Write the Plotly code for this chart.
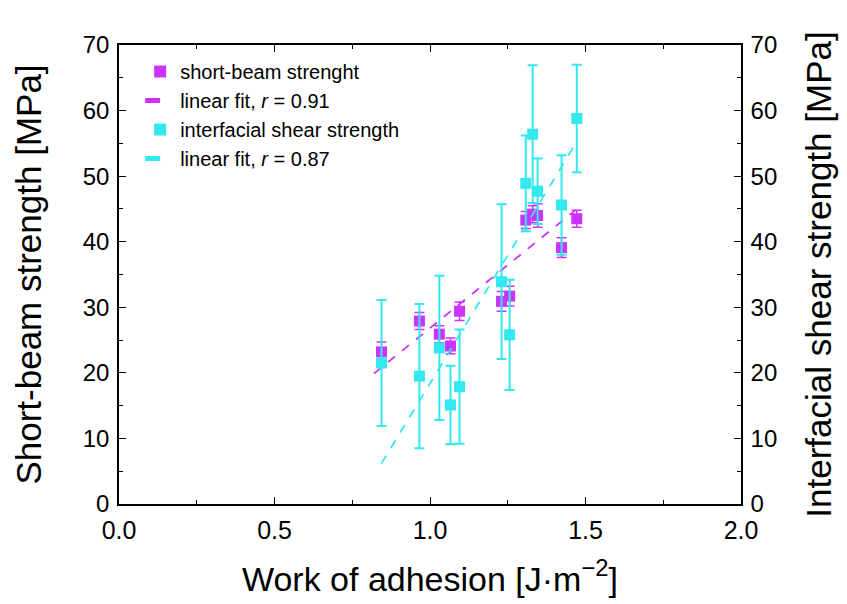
import plotly.graph_objects as go

# Short-beam strength (left axis)
sb_x = [0.844, 0.966, 1.030, 1.066, 1.095, 1.230, 1.256, 1.308, 1.330, 1.346, 1.423, 1.472]
sb_y = [23.2, 27.9, 25.9, 24.1, 29.4, 30.9, 31.7, 43.3, 44.2, 44.0, 39.1, 43.5]
sb_err = [1.5, 1.3, 1.3, 1.2, 1.4, 1.5, 1.5, 1.3, 1.3, 1.8, 1.5, 1.3]

# Interfacial shear strength (right axis)
iss_x = [0.844, 0.966, 1.030, 1.066, 1.095, 1.230, 1.256, 1.308, 1.330, 1.346, 1.423, 1.472]
iss_y = [21.5, 19.5, 23.8, 15.1, 17.9, 33.9, 25.8, 48.9, 56.4, 47.7, 45.6, 58.8]
iss_err = [9.6, 11.0, 11.0, 6.0, 8.7, 11.8, 8.4, 7.3, 10.5, 5.0, 7.6, 8.2]

# Linear fits (endpoints)
fit_sb_x = [0.82, 1.47]
fit_sb_y = [19.9, 44.9]
fit_iss_x = [0.844, 1.466]
fit_iss_y = [6.2, 54.8]

MAG = '#CC33FF'
CYN = '#33E8EE'
FONT = 'Liberation Sans, Arial'

fig = go.Figure()
fig.add_trace(go.Scatter(
    x=sb_x, y=sb_y, mode='markers', name='short-beam strenght',
    marker=dict(symbol='square', size=11, color=MAG),
    error_y=dict(type='data', array=sb_err, color=MAG, thickness=1.5, width=5),
    yaxis='y'))
fig.add_trace(go.Scatter(
    x=fit_sb_x, y=fit_sb_y, mode='lines', name='linear fit, <i>r</i> = 0.91',
    line=dict(color=MAG, width=1.8, dash='dash'), yaxis='y'))
fig.add_trace(go.Scatter(
    x=iss_x, y=iss_y, mode='markers', name='interfacial shear strength',
    marker=dict(symbol='square', size=11, color=CYN),
    error_y=dict(type='data', array=iss_err, color=CYN, thickness=2, width=5),
    yaxis='y2'))
fig.add_trace(go.Scatter(
    x=fit_iss_x, y=fit_iss_y, mode='lines', name='linear fit, <i>r</i> = 0.87',
    line=dict(color=CYN, width=1.8, dash='dash'), yaxis='y2'))

axis_common = dict(
    showgrid=False, zeroline=False, showline=True, linecolor='black', linewidth=1.5,
    ticks='inside', ticklen=7, tickwidth=1.2, tickcolor='black',
)

fig.update_layout(
    width=847, height=604,
    margin=dict(l=119, r=106, t=45, b=97),
    paper_bgcolor='white', plot_bgcolor='white',
    font=dict(family=FONT, color='black'),
    showlegend=True,
    legend=dict(x=0.034, y=0.985, xanchor='left', yanchor='top',
                bgcolor='rgba(0,0,0,0)', font=dict(size=20, family=FONT),
                tracegroupgap=0, itemsizing='constant'),
    xaxis=dict(range=[0, 2.0], tickvals=[0, 0.5, 1.0, 1.5, 2.0],
               ticktext=['0.0', '0.5', '1.0', '1.5', '2.0'],
               mirror='ticks', ticklabelstandoff=3,
               tickfont=dict(size=25, color='black', family=FONT),
               minor=dict(ticks='inside', ticklen=4, tickcolor='black', dtick=0.25),
               title=dict(text='Work of adhesion [J·m<sup>−2</sup>]', font=dict(size=34, family=FONT), standoff=24),
               **axis_common),
    yaxis=dict(range=[0, 70], dtick=10, ticklabelstandoff=3,
               tickfont=dict(size=24, color='black', family=FONT),
               minor=dict(ticks='inside', ticklen=4, tickcolor='black', dtick=5),
               title=dict(text='Short-beam strength [MPa]', font=dict(size=35, family=FONT), standoff=30),
               **axis_common),
    yaxis2=dict(range=[0, 70], dtick=10, overlaying='y', side='right', ticklabelstandoff=3,
                tickfont=dict(size=24, color='black', family=FONT),
                minor=dict(ticks='inside', ticklen=4, tickcolor='black', dtick=5),
                title=dict(text='Interfacial shear strength [MPa]', font=dict(size=35, family=FONT), standoff=30),
                **axis_common),
)

fig.write_html('out.html')
